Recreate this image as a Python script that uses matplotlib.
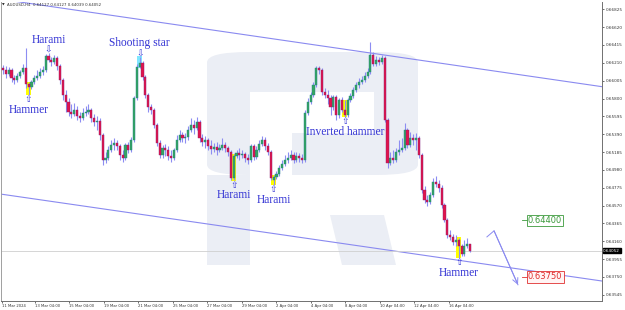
import numpy as np
import matplotlib.pyplot as plt
from matplotlib.patches import Rectangle, FancyBboxPatch, Polygon

# AUDUSD H4 candles (bar index = position on the time axis)
opens = [0.6615, 0.6613, 0.6608, 0.6613, 0.6604, 0.6601, 0.6606, 0.6610, 0.6615, 0.6597,
         0.6593, 0.6599, 0.6604, 0.6606, 0.6610, 0.6613, 0.6629, 0.6624, 0.6622, 0.6627,
         0.6617, 0.6601, 0.6584, 0.6576, 0.6565, 0.6562, 0.6567, 0.6560, 0.6558, 0.6563,
         0.6565, 0.6567, 0.6558, 0.6553, 0.6554, 0.6538, 0.6509, 0.6512, 0.6521, 0.6527,
         0.6529, 0.6525, 0.6515, 0.6512, 0.6527, 0.6521, 0.6532, 0.6581, 0.6616, 0.6621,
         0.6605, 0.6584, 0.6570, 0.6567, 0.6550, 0.6529, 0.6515, 0.6523, 0.6521, 0.6514,
         0.6512, 0.6521, 0.6532, 0.6538, 0.6535, 0.6536, 0.6544, 0.6550, 0.6546, 0.6553,
         0.6535, 0.6530, 0.6532, 0.6525, 0.6522, 0.6524, 0.6521, 0.6523, 0.6527, 0.6523,
         0.6519, 0.6489, 0.6514, 0.6517, 0.6515, 0.6516, 0.6512, 0.6509, 0.6525, 0.6513,
         0.6521, 0.6528, 0.6532, 0.6525, 0.6519, 0.6486, 0.6490, 0.6493, 0.6500, 0.6505,
         0.6509, 0.6512, 0.6515, 0.6509, 0.6514, 0.6512, 0.6509, 0.6563, 0.6576, 0.6584,
         0.6596, 0.6615, 0.6613, 0.6588, 0.6584, 0.6581, 0.6570, 0.6582, 0.6561, 0.6578,
         0.6567, 0.6561, 0.6578, 0.6583, 0.6590, 0.6596, 0.6599, 0.6601, 0.6606, 0.6610,
         0.6630, 0.6620, 0.6624, 0.6622, 0.6627, 0.6555, 0.6506, 0.6512, 0.6509, 0.6519,
         0.6521, 0.6523, 0.6544, 0.6527, 0.6535, 0.6532, 0.6535, 0.6515, 0.6475, 0.6463,
         0.6461, 0.6469, 0.6484, 0.6482, 0.6477, 0.6458, 0.6440, 0.6423, 0.6421, 0.6415,
         0.6417, 0.6411, 0.6401, 0.6411, 0.64127]
closes = [0.6613, 0.6608, 0.6613, 0.6604, 0.6601, 0.6606, 0.6610, 0.6615, 0.6597, 0.6593,
          0.6599, 0.6604, 0.6606, 0.6610, 0.6613, 0.6629, 0.6624, 0.6622, 0.6627, 0.6617,
          0.6601, 0.6584, 0.6576, 0.6565, 0.6562, 0.6567, 0.6560, 0.6558, 0.6563, 0.6565,
          0.6567, 0.6558, 0.6553, 0.6554, 0.6538, 0.6509, 0.6512, 0.6521, 0.6527, 0.6529,
          0.6525, 0.6515, 0.6512, 0.6527, 0.6521, 0.6532, 0.6581, 0.6616, 0.6621, 0.6605,
          0.6584, 0.6570, 0.6567, 0.6550, 0.6529, 0.6515, 0.6523, 0.6521, 0.6514, 0.6512,
          0.6521, 0.6532, 0.6538, 0.6535, 0.6536, 0.6544, 0.6550, 0.6546, 0.6553, 0.6535,
          0.6530, 0.6532, 0.6525, 0.6522, 0.6524, 0.6521, 0.6523, 0.6527, 0.6523, 0.6519,
          0.6489, 0.6514, 0.6517, 0.6515, 0.6516, 0.6512, 0.6509, 0.6525, 0.6513, 0.6521,
          0.6528, 0.6532, 0.6525, 0.6519, 0.6489, 0.6490, 0.6493, 0.6500, 0.6505, 0.6509,
          0.6512, 0.6515, 0.6509, 0.6514, 0.6512, 0.6509, 0.6563, 0.6576, 0.6584, 0.6596,
          0.6615, 0.6613, 0.6588, 0.6584, 0.6581, 0.6570, 0.6582, 0.6561, 0.6578, 0.6567,
          0.6561, 0.6578, 0.6583, 0.6590, 0.6596, 0.6599, 0.6601, 0.6606, 0.6610, 0.6630,
          0.6620, 0.6624, 0.6622, 0.6627, 0.6555, 0.6506, 0.6512, 0.6509, 0.6519, 0.6521,
          0.6523, 0.6544, 0.6527, 0.6535, 0.6532, 0.6535, 0.6515, 0.6475, 0.6463, 0.6461,
          0.6469, 0.6484, 0.6482, 0.6477, 0.6458, 0.6440, 0.6423, 0.6421, 0.6415, 0.6417,
          0.6411, 0.6401, 0.6411, 0.6413, 0.64052]
highs = [0.6619, 0.6617, 0.6616, 0.6615, 0.6607, 0.6609, 0.6613, 0.6620, 0.6638, 0.6598,
         0.6601, 0.6607, 0.6613, 0.6615, 0.6617, 0.6631, 0.6632, 0.6628, 0.6630, 0.6629,
         0.6620, 0.6604, 0.6590, 0.6581, 0.6574, 0.6575, 0.6571, 0.6565, 0.6569, 0.6571,
         0.6574, 0.6569, 0.6562, 0.6560, 0.6558, 0.6540, 0.6519, 0.6525, 0.6532, 0.6535,
         0.6532, 0.6528, 0.6521, 0.6529, 0.6530, 0.6536, 0.6583, 0.6620, 0.6628, 0.6623,
         0.6607, 0.6586, 0.6574, 0.6569, 0.6552, 0.6532, 0.6527, 0.6528, 0.6525, 0.6521,
         0.6523, 0.6538, 0.6544, 0.6542, 0.6540, 0.6548, 0.6558, 0.6555, 0.6559, 0.6555,
         0.6539, 0.6537, 0.6535, 0.6532, 0.6529, 0.6530, 0.6528, 0.6535, 0.6530, 0.6525,
         0.6521, 0.6516, 0.6521, 0.6523, 0.6521, 0.6519, 0.6516, 0.6528, 0.6528, 0.6525,
         0.6532, 0.6537, 0.6536, 0.6529, 0.6521, 0.6492, 0.6497, 0.6504, 0.6509, 0.6515,
         0.6519, 0.6521, 0.6519, 0.6519, 0.6517, 0.6516, 0.6567, 0.6581, 0.6588, 0.6599,
         0.6617, 0.6617, 0.6615, 0.6592, 0.6590, 0.6584, 0.6584, 0.6584, 0.6581, 0.6582,
         0.6578, 0.6581, 0.6586, 0.6593, 0.6599, 0.6604, 0.6606, 0.6610, 0.6615, 0.6645,
         0.6633, 0.6629, 0.6628, 0.6630, 0.6629, 0.6558, 0.6519, 0.6521, 0.6523, 0.6532,
         0.6535, 0.6552, 0.6546, 0.6542, 0.6539, 0.6540, 0.6537, 0.6517, 0.6479, 0.6469,
         0.6473, 0.6489, 0.6491, 0.6486, 0.6481, 0.6460, 0.6443, 0.6429, 0.6424, 0.6423,
         0.6420, 0.6413, 0.6417, 0.6420, 0.64127]
lows = [0.6608, 0.6604, 0.6606, 0.6599, 0.6597, 0.6599, 0.6604, 0.6608, 0.6592, 0.6584,
        0.6591, 0.6597, 0.6601, 0.6604, 0.6607, 0.6610, 0.6622, 0.6617, 0.6620, 0.6613,
        0.6597, 0.6578, 0.6565, 0.6560, 0.6558, 0.6560, 0.6555, 0.6553, 0.6555, 0.6560,
        0.6562, 0.6553, 0.6548, 0.6544, 0.6532, 0.6504, 0.6506, 0.6509, 0.6519, 0.6521,
        0.6521, 0.6509, 0.6507, 0.6509, 0.6517, 0.6519, 0.6530, 0.6578, 0.6615, 0.6601,
        0.6581, 0.6565, 0.6562, 0.6546, 0.6525, 0.6512, 0.6512, 0.6514, 0.6509, 0.6507,
        0.6509, 0.6519, 0.6530, 0.6530, 0.6529, 0.6532, 0.6542, 0.6539, 0.6544, 0.6530,
        0.6525, 0.6523, 0.6521, 0.6516, 0.6519, 0.6515, 0.6519, 0.6521, 0.6519, 0.6514,
        0.6486, 0.6486, 0.6512, 0.6509, 0.6512, 0.6507, 0.6505, 0.6507, 0.6509, 0.6511,
        0.6519, 0.6525, 0.6521, 0.6515, 0.6486, 0.6481, 0.6488, 0.6491, 0.6498, 0.6502,
        0.6506, 0.6509, 0.6506, 0.6507, 0.6507, 0.6506, 0.6507, 0.6561, 0.6574, 0.6582,
        0.6593, 0.6608, 0.6584, 0.6581, 0.6574, 0.6561, 0.6567, 0.6555, 0.6558, 0.6565,
        0.6559, 0.6559, 0.6576, 0.6581, 0.6588, 0.6592, 0.6597, 0.6599, 0.6604, 0.6608,
        0.6617, 0.6617, 0.6619, 0.6620, 0.6553, 0.6500, 0.6504, 0.6506, 0.6507, 0.6515,
        0.6519, 0.6521, 0.6523, 0.6524, 0.6527, 0.6521, 0.6512, 0.6471, 0.6460, 0.6457,
        0.6459, 0.6467, 0.6478, 0.6473, 0.6454, 0.6438, 0.6420, 0.6417, 0.6412, 0.6411,
        0.6397, 0.6399, 0.6399, 0.6408, 0.64039]

# candlestick patterns marked on the chart
pattern_names = ['Hammer', 'Harami', 'Shooting star', 'Harami', 'Harami', 'Inverted hammer', 'Hammer']
pattern_bars = [9, 16, 48, 81, 95, 120, 160]
pattern_above = [False, True, True, False, False, False, False]
yellow_bars = [9, 81, 95, 120, 160]
cyan_bars = [48]

# descending channel (two points each)
chan_x = [-1, 210.3]
chan_upper = [0.66942, 0.65936]
chan_lower = [0.64703, 0.63703]

# forecast path and targets
fc_x = [169.9, 172.4, 180.8]
fc_y = [0.6421, 0.6428, 0.6366]
target_x = 184
target_up = 0.64400
target_down = 0.63750
last_price = 0.64052

ytick_vals = [0.66825, 0.66620, 0.66415, 0.66210, 0.66005, 0.65800, 0.65595, 0.65390, 0.65185,
              0.64980, 0.64775, 0.64570, 0.64365, 0.64160, 0.63955, 0.63750, 0.63545]
xtick_pos = [-0.5, 11.3, 23.3, 35.5, 47.5, 59.7, 71.7, 83.9, 96.0, 108.2, 120.2, 132.4, 144.4, 156.6]
xtick_labels = ['11 Mar 2024', '13 Mar 04:00', '15 Mar 04:00', '19 Mar 04:00', '21 Mar 04:00',
                '25 Mar 04:00', '27 Mar 04:00', '29 Mar 04:00', '2 Apr 04:00', '4 Apr 04:00',
                '8 Apr 04:00', '10 Apr 04:00', '12 Apr 04:00', '16 Apr 04:00']

W, H = 625, 310
fig = plt.figure(figsize=(W / 100, H / 100), dpi=100)
ax = fig.add_axes([1 / W, 9 / H, 601 / W, 299 / H])
ax.set_xlim(-0.7, 210.3)
ax.set_ylim(0.634735, 0.66909)


def px(x, y):
    # figure pixel (from top-left) -> axes fraction, for the watermark only
    return (x - 1) / 601, (301 - y) / 299


# faint "R" watermark
wm = '#ebeef5'
x0, y0 = px(207, 175)
x1, y1 = px(418, 52)
ax.add_patch(FancyBboxPatch((x0, y0), x1 - x0, y1 - y0, boxstyle='round,pad=0,rounding_size=0.07',
                            transform=ax.transAxes, fc=wm, ec='none', zorder=0,
                            mutation_aspect=299 / 601))
for (a, b, cc, d) in [(250, 133, 374, 92), (250, 175, 292, 133)]:
    p0 = px(a, b)
    p1 = px(cc, d)
    ax.add_patch(Rectangle(p0, p1[0] - p0[0], p1[1] - p0[1], transform=ax.transAxes,
                           fc='white', ec='none', zorder=0.1))
s0 = px(207, 265)
s1 = px(250, 175)
ax.add_patch(Rectangle(s0, s1[0] - s0[0], s1[1] - s0[1], transform=ax.transAxes,
                       fc=wm, ec='none', zorder=0))
ax.add_patch(Polygon([px(330, 215), px(384, 215), px(396, 265), px(342, 265)],
                     transform=ax.transAxes, fc=wm, ec='none', zorder=0))

# channel and current price line
ax.plot(chan_x, chan_upper, color='#8a8af0', lw=0.8, zorder=1)
ax.plot(chan_x, chan_lower, color='#8a8af0', lw=0.8, zorder=1)
ax.axhline(last_price, color='#cfcfcf', lw=0.6, zorder=1)

o = np.array(opens)
c = np.array(closes)
h = np.array(highs)
l = np.array(lows)
x = np.arange(len(c))

# highlighted pattern candles
for i in yellow_bars + cyan_bars:
    col = '#ffff00' if i in yellow_bars else '#7fe7ff'
    ax.add_patch(Rectangle((i - 0.9, l[i] - 0.00005), 1.8, h[i] - l[i] + 0.0001,
                           fc=col, ec='none', zorder=1.5))

up = c >= o
ax.vlines(x, l, h, color='#8d8df2', lw=0.8, zorder=2)
body = np.maximum(np.abs(c - o), 0.00004)
ax.bar(x[up], body[up], bottom=np.minimum(o, c)[up], width=0.75,
       color='#35a660', edgecolor='#1f7f8a', lw=0.3, zorder=3)
ax.bar(x[~up], body[~up], bottom=np.minimum(o, c)[~up], width=0.75,
       color='#e0144c', edgecolor='#8a1f6e', lw=0.3, zorder=3)

# pattern labels
blue = '#3434d4'
for name, i, above in zip(pattern_names, pattern_bars, pattern_above):
    if above:
        ax.annotate('\u21e9', (i, h[i]), xytext=(0, 2.2), textcoords='offset points',
                    ha='center', va='center', fontsize=6.5, color=blue, zorder=5)
        ax.annotate(name, (i, h[i]), xytext=(0, 5.5), textcoords='offset points',
                    ha='center', va='bottom', fontsize=8.3, color=blue,
                    family='Liberation Serif', zorder=5)
    else:
        ax.annotate('\u21e7', (i, l[i]), xytext=(0, -3.5), textcoords='offset points',
                    ha='center', va='center', fontsize=6.5, color=blue, zorder=5)
        ax.annotate(name, (i, l[i]), xytext=(0, -6.5), textcoords='offset points',
                    ha='center', va='top', fontsize=8.3, color=blue,
                    family='Liberation Serif', zorder=5)

# forecast arrow
ax.plot(fc_x, fc_y, color='#8a8af0', lw=0.7, zorder=4)
ax.annotate('', xy=(fc_x[2], fc_y[2]), xytext=(fc_x[1], fc_y[1]),
            arrowprops=dict(arrowstyle='->', color='#8a8af0', lw=0.7,
                            mutation_scale=10, shrinkA=0, shrinkB=0), zorder=4)

# target levels
for val, col, fc in [(target_up, '#3c9a3c', 'white'), (target_down, '#e03030', '#fff4f4')]:
    ax.plot([target_x - 1.8, target_x], [val, val], color=col, lw=0.6, zorder=4)
    ax.text(target_x + 0.3, val, f'{val:.5f}', color=col, fontsize=6, ha='left', va='center',
            bbox=dict(boxstyle='square,pad=0.15', fc=fc, ec=col, lw=0.6), zorder=5)

# axes styling
ax.spines['top'].set_visible(False)
ax.spines['left'].set_color('#a0a0a0')
ax.spines['right'].set_color('#707070')
ax.spines['bottom'].set_color('#707070')
for side in ['left', 'right', 'bottom']:
    ax.spines[side].set_linewidth(0.7)

ax.yaxis.tick_right()
ax.set_yticks(ytick_vals)
ax.set_yticklabels([f'{v:.5f}' for v in ytick_vals])
ax.tick_params(axis='y', labelsize=3.0, length=1.5, width=0.5, pad=1, colors='#333333')
ax.set_xticks(xtick_pos)
ax.set_xticklabels(xtick_labels, ha='left')
ax.tick_params(axis='x', labelsize=2.7, length=1.5, width=0.5, pad=1, colors='#333333')

ax.text(1.002, last_price, f'{last_price:.5f}', transform=ax.get_yaxis_transform(),
        color='white', fontsize=3.0, ha='left', va='center',
        bbox=dict(boxstyle='square,pad=0.15', fc='black', ec='black'))

fig.text(2 / W, 1 - 5 / H, '\u25bc', fontsize=2.5, va='center', ha='left', color='#222222')
fig.text(7 / W, 1 - 5 / H, 'AUDUSD,H4  0.64127 0.64127 0.64039 0.64052', fontsize=2.8,
         va='center', ha='left', color='#333333')

fig.savefig('out.png', dpi=100)
